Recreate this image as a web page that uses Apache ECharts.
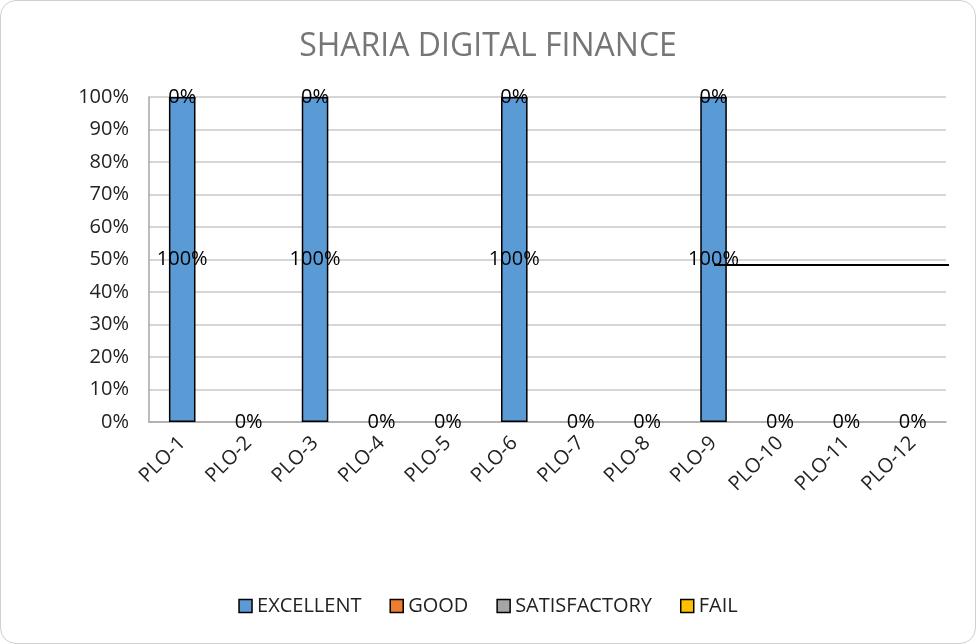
<!DOCTYPE html>
<html>
<head>
<meta charset="utf-8">
<script src="https://cdn.jsdelivr.net/npm/echarts@6/dist/echarts.min.js"></script>
<style>
html,body{margin:0;padding:0;background:#fff;}
#c{width:974px;height:642px;border:1px solid #d0d0d0;border-radius:16px;overflow:hidden;}
</style>
</head>
<body>
<div id="c"></div>
<script>
var categories = ['PLO-1','PLO-2','PLO-3','PLO-4','PLO-5','PLO-6','PLO-7','PLO-8','PLO-9','PLO-10','PLO-11','PLO-12'];
var excellent = [100,0,100,0,0,100,0,0,100,0,0,0];
var good = [0,0,0,0,0,0,0,0,0,0,0,0];
var satisfactory = [0,0,0,0,0,0,0,0,0,0,0,0];
var fail = [0,0,0,0,0,0,0,0,0,0,0,0];
var seriesNames = ['EXCELLENT','GOOD','SATISFACTORY','FAIL'];
var seriesColors = ['#5B9BD5','#ED7D31','#A5A5A5','#FFC000'];
var seriesData = [excellent, good, satisfactory, fail];

var FONT = '"Open Sans", "Noto Sans", sans-serif';
var chart = echarts.init(document.getElementById('c'));
// Overlapping zero labels at the same spot would print on top of each other; show one per spot.
function labelShown(si, ci){
  var v = seriesData[si][ci];
  if (v !== 0) return true;
  var base = 0;
  for (var k = 0; k < si; k++) base += seriesData[k][ci];
  for (var k2 = 0; k2 < si; k2++) {
    var b2 = 0;
    for (var m = 0; m < k2; m++) b2 += seriesData[m][ci];
    if (seriesData[k2][ci] === 0 && b2 === base) return false;
  }
  return true;
}
var series = seriesNames.map(function(n,i){
  return {
    name: n, type: 'bar', stack: 'total',
    data: seriesData[i].map(function(v, ci){
      return {value: v, itemStyle: {borderWidth: v === 0 ? 0 : 1.5}, label: {show: labelShown(i, ci)}};
    }),
    barWidth: '40%',
    itemStyle: {color: seriesColors[i], borderColor: '#000', borderWidth: 1.5},
    label: {show: true, position: 'inside', formatter: '{c}%', color: '#000', fontSize: 20, fontFamily: FONT},
    emphasis: {disabled: true}
  };
});
chart.setOption({
  animation: false,
  title: {text: 'SHARIA DIGITAL FINANCE', left: 'center', top: 25,
    textStyle: {fontFamily: FONT, fontWeight: 'normal', fontSize: 32, color: '#767676'}},
  legend: {bottom: 22, left: 'center', itemWidth: 13, itemHeight: 13, itemGap: 28,
    textStyle: {fontFamily: FONT, fontSize: 20, color: '#222'},
    data: seriesNames.map(function(n,i){return {name:n, icon:'rect', itemStyle:{borderColor:'#000',borderWidth:1.5}};})},
  grid: {left: 148, right: 29, top: 96, bottom: 221},
  xAxis: {type: 'category', data: categories,
    axisLine: {lineStyle: {color: '#a6a6a6', width: 1.5}},
    axisTick: {show: false},
    axisLabel: {rotate: 45, margin: 18, fontSize: 20, color: '#222', fontFamily: FONT, interval: 0}},
  yAxis: {type: 'value', min: 0, max: 100, interval: 10,
    axisLine: {show: true, lineStyle: {color: '#a6a6a6', width: 1.5}},
    axisTick: {show: false},
    splitLine: {lineStyle: {color: '#c8c8c8', width: 1.5}},
    axisLabel: {formatter: '{value}%', fontSize: 20, color: '#222', fontFamily: FONT, margin: 20}},
  series: series,
  graphic: [{type: 'line', shape: {x1: 713, y1: 264, x2: 948, y2: 264}, style: {stroke: '#000', lineWidth: 2}, z: 100}]
});
</script>
</body>
</html>
